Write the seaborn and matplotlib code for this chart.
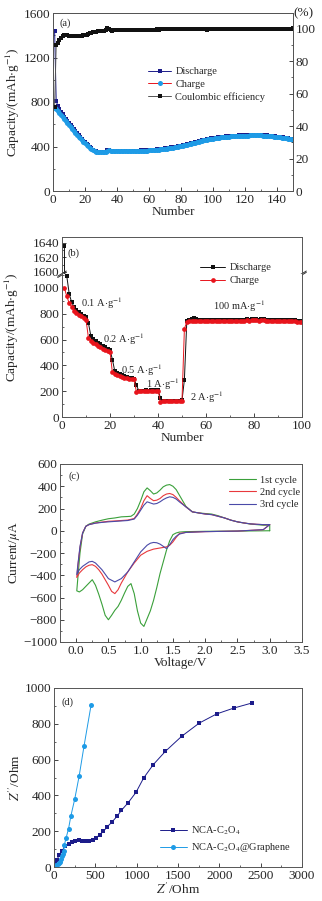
import matplotlib
matplotlib.use('Agg')
import matplotlib.pyplot as plt
import numpy as np
import seaborn as sns
from matplotlib.ticker import AutoMinorLocator

sns.set_style('ticks')
plt.rcParams['font.family'] = ['Liberation Serif', 'DejaVu Serif']
plt.rcParams['mathtext.fontset'] = 'stix'
plt.rcParams['font.size'] = 9.5
plt.rcParams['axes.linewidth'] = 0.7

# ---- (a) cycling at 100 mA/g ----
cycles_a = np.arange(1, 151)
charge_a = [750, 735, 718, 700, 682, 664, 646, 628, 610, 592,
            574, 556, 539, 522, 505, 489, 473, 458, 443, 429,
            415, 402, 390, 379, 369, 361, 355, 351, 349, 348,
            348, 350, 353, 362, 366, 362, 360, 359, 358, 358,
            358, 359, 358, 357, 358, 359, 358, 357, 358, 359,
            359, 360, 360, 361, 361, 362, 362, 363, 364, 365,
            366, 367, 368, 370, 371, 373, 374, 376, 378, 380,
            382, 384, 386, 388, 390, 393, 395, 398, 401, 404,
            407, 410, 413, 417, 420, 424, 427, 431, 435, 439,
            443, 447, 450, 454, 457, 460, 463, 466, 469, 471,
            473, 476, 478, 480, 482, 483, 485, 486, 487, 489,
            490, 491, 492, 493, 494, 495, 495, 496, 497, 497,
            498, 498, 499, 499, 500, 500, 500, 500, 499, 499,
            498, 497, 496, 495, 494, 492, 491, 489, 487, 485,
            483, 481, 479, 477, 475, 472, 470, 467, 464, 460]
discharge_a = [1440, 812, 765, 740, 712, 690, 668, 648, 628, 609,
               590, 571, 553, 535, 517, 500, 484, 468, 453, 438,
               423, 409, 396, 384, 373, 364, 357, 352, 350, 349,
               349, 351, 355, 365, 368, 364, 361, 360, 359, 359,
               362, 362, 361, 361, 362, 362, 361, 361, 362, 362,
               363, 363, 364, 364, 365, 365, 366, 367, 368, 369,
               370, 371, 372, 373, 375, 376, 378, 380, 382, 384,
               386, 388, 390, 392, 394, 397, 399, 402, 405, 408,
               411, 414, 417, 421, 424, 428, 431, 435, 439, 443,
               447, 451, 454, 458, 461, 464, 467, 470, 473, 475,
               477, 480, 482, 484, 486, 487, 489, 490, 491, 493,
               494, 495, 496, 497, 498, 499, 499, 500, 501, 501,
               502, 502, 503, 503, 504, 504, 504, 504, 503, 503,
               502, 501, 500, 499, 498, 496, 495, 493, 491, 489,
               487, 485, 483, 481, 479, 476, 474, 471, 468, 464]
ce_a = [52, 90, 91, 93, 94, 95.5, 96, 96, 95.8, 95.6,
        95.4, 95.3, 95.3, 95.2, 95.3, 95.4, 95.5, 95.6, 95.8, 96,
        96.3, 96.6, 97, 97.3, 97.6, 97.9, 98.1, 98.3, 98.4, 98.5,
        98.6, 98.7, 99, 100.5, 99.5, 99, 98.8, 98.9, 99, 99,
        99.1, 98.9, 99, 99.1, 99, 98.9, 99, 99.1, 99, 99.1,
        99.2, 99.1, 99.2, 99.3, 99.2, 99.1, 99.3, 99.2, 99.3, 99.4,
        99.3, 99.4, 99.3, 99.4, 99.5, 99.4, 99.5, 99.6, 99.5, 99.6,
        99.6, 99.5, 99.6, 99.7, 99.6, 99.5, 99.6, 99.7, 99.6, 99.7,
        99.6, 99.7, 99.6, 99.7, 99.6, 99.5, 99.6, 99.7, 99.6, 99.7,
        99.6, 99.7, 99.6, 99.5, 99.6, 99.4, 99.5, 99.6, 99.5, 99.6,
        99.7, 99.6, 99.5, 99.6, 99.7, 99.6, 99.7, 99.6, 99.5, 99.6,
        99.7, 99.6, 99.7, 99.6, 99.5, 99.6, 99.7, 99.6, 99.7, 99.6,
        99.5, 99.6, 99.7, 99.6, 99.7, 99.8, 99.6, 99.7, 99.6, 99.7,
        99.6, 99.7, 99.8, 99.7, 99.6, 99.7, 99.8, 99.7, 99.6, 99.7,
        99.8, 99.7, 99.8, 99.7, 99.8, 99.9, 99.8, 99.9, 99.8, 100.5]

# ---- (b) rate test ----
cycles_b = np.arange(1, 101)
discharge_b = [1635, 1090, 955, 890, 855, 830, 810, 795, 785, 775,
               730, 630, 605, 590, 575, 562, 550, 540, 530, 520,
               445, 355, 340, 330, 322, 315, 310, 305, 300, 298,
               245, 205, 204, 205, 206, 205, 207, 208, 209, 210,
               150, 125, 124, 124, 125, 125, 126, 126, 127, 128,
               290, 742, 755, 756, 765, 758, 752, 750, 748, 750,
               752, 750, 748, 751, 753, 750, 749, 752, 754, 751,
               750, 752, 755, 753, 751, 754, 756, 755, 757, 760,
               758, 755, 757, 756, 754, 753, 752, 750, 751, 752,
               750, 752, 754, 755, 752, 750, 748, 746, 745, 742]
charge_b = [1000, 935, 882, 855, 822, 805, 790, 780, 768, 755,
            615, 590, 575, 562, 550, 540, 530, 522, 514, 505,
            345, 335, 325, 316, 310, 305, 300, 297, 294, 292,
            195, 198, 199, 200, 201, 200, 202, 203, 204, 205,
            120, 121, 121, 122, 122, 123, 123, 124, 125, 126,
            685, 735, 740, 742, 745, 743, 742, 740, 741, 742,
            744, 742, 740, 743, 745, 742, 741, 744, 746, 743,
            742, 744, 747, 745, 743, 746, 748, 747, 749, 752,
            750, 747, 749, 748, 746, 745, 744, 742, 743, 744,
            742, 744, 746, 747, 744, 742, 740, 738, 737, 735]
rate_labels = [r'0.1 A$\cdot$g$^{-1}$', r'0.2 A$\cdot$g$^{-1}$', r'0.5 A$\cdot$g$^{-1}$',
               r'1 A$\cdot$g$^{-1}$', r'2 A$\cdot$g$^{-1}$', r'100 mA$\cdot$g$^{-1}$']
rate_label_x = [8, 17, 24.5, 35, 53.5, 63]
rate_label_y = [885, 600, 365, 252, 155, 855]

# ---- (c) cyclic voltammetry ----
v1 = [3.0, 2.5, 2.0, 1.7, 1.6, 1.55, 1.5, 1.45, 1.4, 1.35, 1.3, 1.25, 1.2, 1.15, 1.1, 1.05,
      1.0, 0.95, 0.9, 0.85, 0.8, 0.75, 0.7, 0.65, 0.6, 0.55, 0.5, 0.45, 0.4, 0.35, 0.3, 0.25,
      0.2, 0.15, 0.1, 0.05, 0.01,
      0.03, 0.06, 0.1, 0.15, 0.2, 0.3, 0.4, 0.5, 0.6, 0.7, 0.8, 0.85, 0.9, 0.95, 1.0, 1.05,
      1.1, 1.15, 1.2, 1.25, 1.3, 1.35, 1.4, 1.45, 1.5, 1.55, 1.6, 1.7, 1.8, 1.9, 2.0, 2.1,
      2.2, 2.3, 2.4, 2.5, 2.6, 2.7, 2.8, 2.9, 3.0, 3.0]
i1 = [0, -3, -5, -8, -12, -20, -35, -90, -175, -280, -385, -510, -625, -720, -790, -860,
      -830, -720, -565, -475, -500, -560, -625, -680, -715, -760, -800, -760, -660, -570, -490, -440,
      -470, -500, -530, -550, -540,
      -400, -200, -30, 40, 60, 80, 95, 108, 115, 125, 128, 130, 150, 200, 270, 350,
      385, 360, 330, 340, 365, 395, 410, 415, 400, 370, 320, 220, 170, 160, 155, 150,
      135, 115, 95, 80, 70, 60, 55, 50, 50, 0]
v2 = [3.0, 2.9, 2.5, 2.0, 1.7, 1.6, 1.55, 1.5, 1.45, 1.4, 1.3, 1.2, 1.1, 1.0, 0.9, 0.8,
      0.7, 0.65, 0.6, 0.55, 0.5, 0.45, 0.4, 0.35, 0.3, 0.25, 0.2, 0.15, 0.1, 0.05, 0.01,
      0.03, 0.06, 0.1, 0.15, 0.2, 0.3, 0.4, 0.5, 0.6, 0.7, 0.8, 0.9, 0.95, 1.0, 1.05,
      1.1, 1.15, 1.2, 1.25, 1.3, 1.35, 1.4, 1.45, 1.5, 1.55, 1.6, 1.7, 1.8, 1.9, 2.0,
      2.1, 2.2, 2.3, 2.4, 2.5, 2.6, 2.7, 2.8, 2.9, 3.0]
i2 = [55, 10, -3, -8, -15, -25, -60, -100, -130, -145, -155, -165, -185, -220, -290, -370,
      -470, -530, -565, -545, -490, -440, -390, -350, -320, -305, -310, -325, -350, -380, -420,
      -300, -150, -20, 40, 55, 70, 78, 85, 88, 92, 96, 110, 150, 200, 270,
      315, 290, 270, 275, 290, 315, 330, 335, 325, 300, 270, 215, 170, 160, 150,
      145, 130, 115, 95, 80, 70, 62, 58, 55, 55]
v3 = [3.0, 2.9, 2.5, 2.0, 1.7, 1.6, 1.55, 1.5, 1.45, 1.4, 1.35, 1.3, 1.25, 1.2, 1.15, 1.1,
      1.0, 0.9, 0.8, 0.7, 0.6, 0.5, 0.4, 0.3, 0.25, 0.2, 0.1, 0.05, 0.01,
      0.03, 0.06, 0.1, 0.15, 0.2, 0.3, 0.4, 0.5, 0.6, 0.7, 0.8, 0.9, 0.95, 1.0, 1.05,
      1.1, 1.15, 1.2, 1.25, 1.3, 1.35, 1.4, 1.45, 1.5, 1.55, 1.6, 1.7, 1.8, 1.9, 2.0,
      2.1, 2.2, 2.3, 2.4, 2.5, 2.6, 2.7, 2.8, 2.9, 3.0]
i3 = [55, 10, -3, -8, -15, -30, -50, -80, -125, -160, -140, -120, -108, -105, -112, -130,
      -190, -280, -370, -430, -460, -430, -350, -290, -275, -280, -320, -350, -395,
      -290, -140, -20, 40, 55, 68, 75, 80, 84, 88, 92, 105, 140, 185, 230,
      260, 250, 240, 245, 260, 280, 295, 305, 300, 285, 260, 215, 170, 160, 150,
      145, 130, 115, 95, 80, 70, 62, 58, 55, 55]
cv_labels = ['1st cycle', '2nd cycle', '3rd cycle']

# ---- (d) Nyquist ----
zre_nca = [8, 17, 38, 63, 92, 134, 176, 218, 259, 301, 343, 385, 427, 469, 510, 552,
           598, 640, 699, 762, 816, 895, 992, 1084, 1201, 1347, 1544, 1757, 1967, 2176, 2393]
zim_nca = [7, 19, 41, 69, 88, 115, 128, 138, 143, 149, 147, 143, 143, 149, 162, 181,
           199, 223, 250, 283, 317, 358, 417, 497, 572, 646, 730, 804, 855, 888, 916]
zre_gr = [5, 15, 30, 45, 60, 72, 84, 95, 105, 115, 126, 146, 176, 205, 251, 305, 364, 448]
zim_gr = [3, 8, 12, 15, 20, 30, 45, 60, 75, 90, 125, 162, 214, 287, 380, 510, 678, 903]

W, H = 322, 901
fig = plt.figure(figsize=(W / 100, H / 100), dpi=100)


def rect(x0, y0, x1, y1):
    return [x0 / W, 1 - y1 / H, (x1 - x0) / W, (y1 - y0) / H]


def style(ax, minor=True):
    ax.tick_params(direction='in', length=3, width=0.6, labelsize=9.5, pad=2)
    if minor:
        ax.xaxis.set_minor_locator(AutoMinorLocator(2))
        ax.yaxis.set_minor_locator(AutoMinorLocator(2))
        ax.tick_params(which='minor', direction='in', length=1.6, width=0.5)
    for s in ax.spines.values():
        s.set_visible(True)
        s.set_color('#555555')


navy = '#1c1c8a'
lblue = '#1e9be6'
red = '#e8141c'

# ---------------- panel a ----------------
ax = fig.add_axes(rect(53, 13, 293, 191))
ax2 = ax.twinx()
sns.lineplot(x=cycles_a, y=discharge_a, ax=ax, color=navy, marker='s', markersize=3.2,
             markeredgewidth=0, linewidth=0.7, sort=False, estimator=None, label='Discharge')
sns.lineplot(x=cycles_a, y=charge_a, ax=ax, color=red, marker='o', markersize=3.6,
             markerfacecolor=lblue, markeredgecolor=lblue, markeredgewidth=0,
             linewidth=0.7, sort=False, estimator=None, label='Charge')
sns.lineplot(x=cycles_a, y=ce_a, ax=ax2, color='#555555', marker='s', markersize=3.2,
             markerfacecolor='#111111', markeredgecolor='#111111', markeredgewidth=0,
             linewidth=0.7, sort=False, estimator=None, label='Coulombic efficiency')
ax.set_xlim(0, 150)
ax.set_ylim(0, 1600)
ax.set_yticks([0, 400, 800, 1200, 1600])
ax.set_xticks(np.arange(0, 141, 20))
ax2.set_ylim(0, 1600 * 100 / 1460)
ax2.set_yticks([0, 20, 40, 60, 80, 100])
ax.set_xlabel('Number', labelpad=0)
ax.set_ylabel(r'Capacity/(mAh$\cdot$g$^{-1}$)', labelpad=1)
style(ax)
style(ax2)
ax2.set_ylabel('')
ax.text(0.025, 0.94, '(a)', transform=ax.transAxes, fontsize=7.5, va='center')
ax2.text(1.0, 1.0, '(%)', transform=ax2.transAxes, fontsize=9.5, ha='left', va='center')
if ax.get_legend():
    ax.get_legend().remove()
h1, l1 = ax.get_legend_handles_labels()
h2, l2 = ax2.get_legend_handles_labels()
ax2.legend(h1 + h2, l1 + l2, loc='upper left', bbox_to_anchor=(0.38, 0.72), frameon=False,
           fontsize=7.5, handlelength=2.2, handletextpad=0.4, labelspacing=0.3, borderaxespad=0)

# ---------------- panel b (broken axis) ----------------
axt = fig.add_axes(rect(62, 237, 302, 274))
axb = fig.add_axes(rect(62, 274, 302, 417))
for a in (axt, axb):
    sns.lineplot(x=cycles_b, y=discharge_b, ax=a, color='#111111', marker='s', markersize=3.2,
                 markerfacecolor='#111111', markeredgecolor='#111111', markeredgewidth=0,
                 linewidth=0.7, sort=False, estimator=None, label='Discharge')
    sns.lineplot(x=cycles_b, y=charge_b, ax=a, color=red, marker='o', markersize=3.4,
                 markerfacecolor=red, markeredgecolor=red, markeredgewidth=0,
                 linewidth=0.7, sort=False, estimator=None, label='Charge')
    a.set_xlim(0, 100)
    style(a)
    a.set_xlabel('')
    a.set_ylabel('')
axt.set_ylim(1597, 1648)
axt.set_yticks([1600, 1620, 1640])
axt.tick_params(axis='x', which='both', bottom=False, labelbottom=False)
axt.spines['bottom'].set_visible(False)
axb.set_ylim(0, 1108)
axb.set_yticks([0, 200, 400, 600, 800, 1000])
axb.spines['top'].set_visible(False)
axb.set_xticks([0, 20, 40, 60, 80, 100])
axb.set_xlabel('Number', labelpad=0)
axb.set_ylabel(r'Capacity/(mAh$\cdot$g$^{-1}$)')
axb.yaxis.set_label_coords(-0.17, 0.63)
axt.get_legend().remove()
hb, lb = axb.get_legend_handles_labels()
axb.get_legend().remove()
fig.legend(hb, lb, loc='upper left', bbox_to_anchor=(196 / W, 1 - 259 / H), frameon=False,
           fontsize=7.5, handlelength=2.4, handletextpad=0.4, labelspacing=0.35, borderaxespad=0)
for xx in (0, 1):
    for dy in (-0.035, 0.0):
        axt.plot([xx - 0.018, xx + 0.018], [dy - 0.06, dy + 0.08], transform=axt.transAxes,
                 color='#333333', lw=0.7, clip_on=False)
axt.text(0.025, 0.55, '(b)', transform=axt.transAxes, fontsize=7.5, va='center')
for lab, xx, yy in zip(rate_labels, rate_label_x, rate_label_y):
    axb.text(xx, yy, lab, fontsize=7.5, va='center')

# ---------------- panel c ----------------
axc = fig.add_axes(rect(60, 464, 302, 642))
for vv, ii, col, lab in zip([v1, v2, v3], [i1, i2, i3], ['#3aa03a', '#e8383c', '#4a4aa8'], cv_labels):
    sns.lineplot(x=vv, y=ii, ax=axc, color=col, linewidth=0.8, sort=False, estimator=None,
                 label=lab)
axc.set_xlim(-0.25, 3.5)
axc.set_ylim(-1000, 600)
axc.set_xticks(np.arange(0, 3.6, 0.5))
axc.set_xticklabels(['0.0', '0.5', '1.0', '1.5', '2.0', '2.5', '3.0', '3.5'])
axc.set_yticks(np.arange(-1000, 601, 200))
axc.set_xlabel('Voltage/V', labelpad=0)
axc.set_ylabel(r'Current/$\mu$A', labelpad=1)
style(axc)
axc.legend(loc='upper left', bbox_to_anchor=(0.68, 0.96), frameon=False, fontsize=7.5,
           handlelength=2.6, handletextpad=0.4, labelspacing=0.3, borderaxespad=0)
axc.text(0.035, 0.93, '(c)', transform=axc.transAxes, fontsize=7.5, va='center')

# ---------------- panel d ----------------
axd = fig.add_axes(rect(54, 688, 302, 867))
sns.lineplot(x=zre_nca, y=zim_nca, ax=axd, color=navy, marker='s', markersize=3.4,
             markerfacecolor=navy, markeredgecolor=navy, markeredgewidth=0,
             linewidth=0.7, sort=False, estimator=None, label=r'NCA-C$_2$O$_4$')
sns.lineplot(x=zre_gr, y=zim_gr, ax=axd, color=lblue, marker='o', markersize=3.6,
             markerfacecolor=lblue, markeredgecolor=lblue, markeredgewidth=0,
             linewidth=0.7, sort=False, estimator=None, label=r'NCA-C$_2$O$_4$@Graphene')
axd.set_xlim(0, 3000)
axd.set_ylim(0, 1000)
axd.set_xticks(np.arange(0, 3001, 500))
axd.set_yticks(np.arange(0, 1001, 200))
axd.set_xlabel(r"$Z'$/Ohm", labelpad=0)
axd.set_ylabel(r"$Z''$/Ohm", labelpad=1)
style(axd)
axd.legend(loc='upper left', bbox_to_anchor=(0.41, 0.26), frameon=False, fontsize=7.5,
           handlelength=2.6, handletextpad=0.4, labelspacing=0.4, borderaxespad=0)
axd.text(0.03, 0.92, '(d)', transform=axd.transAxes, fontsize=7.5, va='center')

fig.savefig('out.png', dpi=100, facecolor='white')
